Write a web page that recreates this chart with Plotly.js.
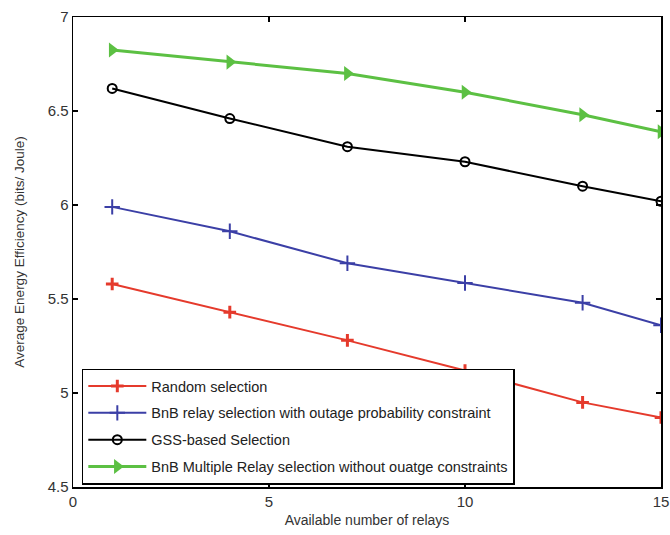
<!DOCTYPE html>
<html>
<head>
<meta charset="utf-8">
<script src="https://cdn.plot.ly/plotly-3.0.1.min.js"></script>
<style>html,body{margin:0;padding:0;background:#fff;}#chart{width:670px;height:535px;}</style>
</head>
<body>
<div id="chart"></div>
<script>
const relays = [1, 4, 7, 10, 13, 15];
const randomSel = [5.58, 5.43, 5.28, 5.12, 4.95, 4.87];
const bnbOutage = [5.99, 5.86, 5.69, 5.585, 5.48, 5.36];
const gssSel = [6.62, 6.46, 6.31, 6.23, 6.10, 6.02];
const bnbMulti = [6.824, 6.76, 6.70, 6.60, 6.48, 6.39];
const names = [
  'Random selection',
  'BnB relay selection with outage probability constraint',
  'GSS-based Selection',
  'BnB Multiple Relay selection without ouatge constraints'
];
const xTicks = [0, 5, 10, 15];
const yTicks = [4.5, 5, 5.5, 6, 6.5, 7];
const yTickText = ['4.5', '5', '5.5', '6', '6.5', '7'];

const traces = [
  {x: relays, y: randomSel, name: names[0], legendgroup: 'a', mode: 'lines+markers',
   line: {color: '#e53a2c', width: 2}, marker: {symbol: 'cross-thin', size: 9, color: '#e53a2c', line: {color: '#e53a2c', width: 3}}},
  {x: relays, y: bnbOutage, name: names[1], legendgroup: 'b', mode: 'lines+markers',
   line: {color: '#3b3fa6', width: 2}, marker: {symbol: 'cross-thin', size: 11, color: '#3b3fa6', line: {color: '#3b3fa6', width: 2}}},
  {x: relays, y: gssSel, name: names[2], legendgroup: 'c', mode: 'lines+markers',
   line: {color: '#000000', width: 2}, marker: {symbol: 'circle-open', size: 9, color: '#000000', line: {color: '#000000', width: 2}}},
  {x: relays, y: bnbMulti, name: names[3], legendgroup: 'd', mode: 'lines+markers',
   line: {color: '#5cc043', width: 3}, marker: {symbol: 'triangle-right', size: 13, color: '#5cc043'}}
];

const axisFont = {family: 'Liberation Sans, Arial, sans-serif', size: 15, color: '#333'};
const layout = {
  width: 670, height: 535,
  margin: {l: 73, r: 9, t: 17, b: 48, pad: 0},
  paper_bgcolor: '#fff', plot_bgcolor: '#fff',
  showlegend: true,
  font: {family: 'Liberation Sans, Arial, sans-serif', color: '#222'},
  xaxis: {
    range: [0, 15], tickvals: xTicks, ticktext: xTicks.map(String),
    ticks: 'inside', ticklen: 5, tickwidth: 1.5, tickcolor: '#000',
    showline: true, linecolor: '#000', linewidth: 1.5, mirror: 'ticks',
    showgrid: false, zeroline: false, tickfont: axisFont,
    title: {text: 'Available number of relays', font: {family: 'Liberation Sans, Arial, sans-serif', size: 14, color: '#333'}, standoff: 6}
  },
  yaxis: {
    range: [4.5, 7], tickvals: yTicks, ticktext: yTickText,
    ticks: 'inside', ticklen: 5, tickwidth: 1.5, tickcolor: '#000',
    showline: true, linecolor: '#000', linewidth: 1.5, mirror: 'ticks',
    showgrid: false, zeroline: false, tickfont: axisFont,
    title: {text: 'Average Energy Efficiency (bits/ Joule)', font: {family: 'Liberation Sans, Arial, sans-serif', size: 13.5, color: '#333'}, standoff: 20}
  },
  legend: {
    x: 0.015, y: 0.252, xanchor: 'left', yanchor: 'top',
    bgcolor: '#fff', bordercolor: '#000', borderwidth: 1.5,
    font: {family: 'Liberation Sans, Arial, sans-serif', size: 14.5, color: '#222'},
    traceorder: 'grouped', tracegroupgap: 5, itemwidth: 58
  }
};
Plotly.newPlot('chart', traces, layout, {displayModeBar: false, staticPlot: true});
</script>
</body>
</html>
